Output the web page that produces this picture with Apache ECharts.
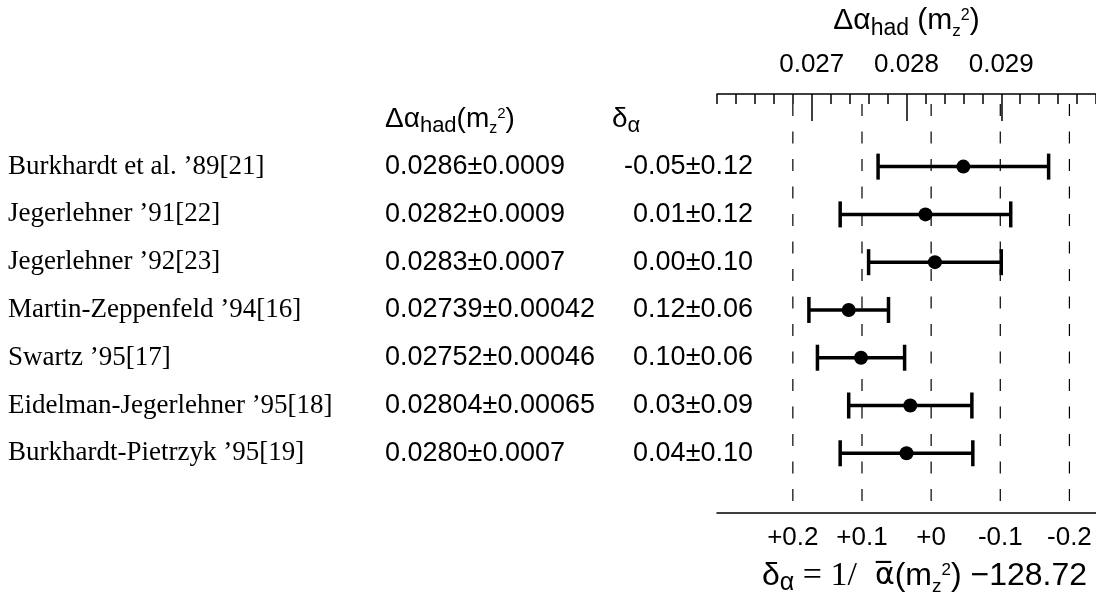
<!DOCTYPE html>
<html>
<head>
<meta charset="utf-8">
<script src="https://cdn.jsdelivr.net/npm/echarts@6/dist/echarts.min.js"></script>
<style>html,body{margin:0;padding:0;background:#fff}#c{width:1096px;height:594px}</style>
</head>
<body>
<div id="c"></div>
<script>
// ---- data ----
const names = ["Burkhardt et al. \u201989[21]", "Jegerlehner \u201991[22]", "Jegerlehner \u201992[23]",
  "Martin-Zeppenfeld \u201994[16]", "Swartz \u201995[17]", "Eidelman-Jegerlehner \u201995[18]", "Burkhardt-Pietrzyk \u201995[19]"];
const daText = ["0.0286\u00B10.0009", "0.0282\u00B10.0009", "0.0283\u00B10.0007", "0.02739\u00B10.00042",
  "0.02752\u00B10.00046", "0.02804\u00B10.00065", "0.0280\u00B10.0007"];
const deltaText = ["-0.05\u00B10.12", "0.01\u00B10.12", "0.00\u00B10.10", "0.12\u00B10.06", "0.10\u00B10.06", "0.03\u00B10.09", "0.04\u00B10.10"];
const daVal = [0.0286, 0.0282, 0.0283, 0.02739, 0.02752, 0.02804, 0.0280];
const daErr = [0.0009, 0.0009, 0.0007, 0.00042, 0.00046, 0.00065, 0.0007];
const topTicks = [0.027, 0.028, 0.029];
const bottomTicks = [0.2, 0.1, 0, -0.1, -0.2];
const rowIdx = [0, 1, 2, 3, 4, 5, 6];

// axis ranges / conversion  delta = K*(DA0 - dAlpha)
const DA_MIN = 0.026, DA_MAX = 0.030;
const K = 137.036, DA0 = 0.02826;
const D_MIN = K * (DA0 - DA_MAX), D_MAX = K * (DA0 - DA_MIN);
const Y_MIN = -1.52, Y_MAX = 7.25;

const SANS = "'Liberation Sans', Arial, sans-serif";
const SERIF = "'Liberation Serif', 'Times New Roman', serif";

function makeRich(fs, lh) {
  const supFs = Math.round(fs * 0.52);
  return {
    m: { fontFamily: SANS, fontSize: fs, lineHeight: lh, color: '#000' },
    ab: { fontFamily: "'DejaVu Sans', sans-serif", fontSize: fs - 2, lineHeight: lh, color: '#000' },
    sub: { fontFamily: SANS, fontSize: Math.round(fs * 0.78), lineHeight: Math.round(fs * 0.78), verticalAlign: 'bottom', color: '#000' },
    zs: { fontFamily: SANS, fontSize: Math.round(fs * 0.58), lineHeight: Math.round(fs * 0.58), verticalAlign: 'bottom', color: '#000' },
    sup: { fontFamily: SANS, fontSize: supFs, lineHeight: supFs, verticalAlign: 'top', padding: [Math.round(fs * 0.2), 0, 0, 0], color: '#000' },
    t: { fontFamily: SERIF, fontSize: fs + 2, lineHeight: lh, color: '#000' }
  };
}
const richHead = makeRich(28, 36);
const richTop = makeRich(30, 38);
const richBottom = makeRich(32, 40);

const errData = rowIdx.map(i => [daVal[i], i, daErr[i]]);
const ptData = rowIdx.map(i => [daVal[i], i]);

const hiddenY = { axisLine: { show: false }, axisTick: { show: false }, splitLine: { show: false } };

const chart = echarts.init(document.getElementById('c'), null, { renderer: 'canvas' });
chart.setOption({
  animation: false,
  backgroundColor: '#fff',
  grid: { left: 717, right: 0, top: 94, bottom: 81, containLabel: false, outerBoundsMode: 'none' },
  xAxis: [
    {
      type: 'value', position: 'top', min: DA_MIN, max: DA_MAX, interval: 0.001,
      axisLine: { show: true, onZero: false, lineStyle: { color: '#000', width: 1.5 } },
      axisTick: { show: true, inside: true, length: 27, customValues: topTicks, lineStyle: { color: '#000', width: 1.5 } },
      axisLabel: { customValues: topTicks, fontFamily: SANS, fontSize: 26, color: '#000', margin: 16,
        formatter: v => v.toFixed(3) },
      splitLine: { show: false },
      name: '{m|\u0394\u03B1}{sub|had}{m| (m}{zs|z}{sup|2}{m|)}',
      nameLocation: 'middle', nameGap: 54,
      nameTextStyle: { rich: richTop }
    },
    {
      type: 'value', position: 'bottom', inverse: true, min: D_MIN, max: D_MAX,
      axisLine: { show: true, onZero: false, lineStyle: { color: '#000', width: 1.5 } },
      axisTick: { show: false },
      axisLabel: { customValues: bottomTicks, fontFamily: SANS, fontSize: 26, color: '#000', margin: 12,
        formatter: v => (v >= 0 ? '+' : '') + (Math.abs(v) < 1e-9 ? '0' : v.toFixed(1)) },
      splitLine: { show: false },
      name: '{m|\u03B4}{sub|\u03B1}{t| = 1/ }{ab| \u03B1\u0305}{m|(m}{zs|z}{sup|2}{m|) \u2212128.72}',
      nameLocation: 'middle', nameGap: 40,
      nameTextStyle: { rich: richBottom, padding: [0, 0, 0, 36] }
    },
    {
      type: 'value', position: 'top', min: DA_MIN, max: DA_MAX, interval: 0.0002,
      axisLine: { show: false, onZero: false },
      axisTick: { show: true, inside: true, length: 10, lineStyle: { color: '#000', width: 1.5 } },
      axisLabel: { show: false }, splitLine: { show: false }
    }
  ],
  yAxis: [
    Object.assign({
      type: 'value', position: 'left', offset: 0, inverse: true, min: Y_MIN, max: Y_MAX,
      axisLabel: { customValues: rowIdx, align: 'left', margin: 709, fontFamily: SERIF, fontSize: 27, color: '#000',
        formatter: v => names[Math.round(v)] }
    }, hiddenY),
    Object.assign({
      type: 'value', position: 'left', offset: 0, inverse: true, min: Y_MIN, max: Y_MAX,
      axisLabel: { customValues: [-1].concat(rowIdx), align: 'left', margin: 332, fontFamily: SANS, fontSize: 27, color: '#000',
        formatter: v => {
          const i = Math.round(v);
          if (i < 0) return '{m|\u0394\u03B1}{sub|had}{m|(m}{zs|z}{sup|2}{m|)}';
          return '{v|' + daText[i] + '}';
        },
        rich: Object.assign({ v: { fontFamily: SANS, fontSize: 27, color: '#000' } }, richHead) }
    }, hiddenY),
    Object.assign({
      type: 'value', position: 'left', offset: 0, inverse: true, min: Y_MIN, max: Y_MAX,
      axisLabel: { customValues: [-1].concat(rowIdx), align: 'left', margin: 105, fontFamily: SANS, fontSize: 27, color: '#000',
        formatter: v => {
          const i = Math.round(v);
          if (i < 0) return '{m|\u03B4}{sub|\u03B1}';
          return '{d|' + deltaText[i] + '}';
        },
        rich: Object.assign({ d: { fontFamily: SANS, fontSize: 27, color: '#000', width: 141, align: 'right' } }, richHead) }
    }, hiddenY)
  ],
  series: [
    {
      type: 'custom', xAxisIndex: 1, yAxisIndex: 0, silent: true, z: 1,
      data: bottomTicks.map(v => [v]),
      renderItem: (params, api) => {
        const v = api.value(0);
        const p1 = api.coord([v, Y_MIN]);
        const p2 = api.coord([v, Y_MAX]);
        return { type: 'line', shape: { x1: p1[0], y1: p1[1], x2: p2[0], y2: p2[1] },
          style: { stroke: '#000', lineWidth: 1.2, lineDash: [12, 15.5], lineDashOffset: 17.5 } };
      }
    },
    {
      type: 'custom', xAxisIndex: 0, yAxisIndex: 0, silent: true, z: 3,
      data: errData,
      renderItem: (params, api) => {
        const x = api.value(0), y = api.value(1), e = api.value(2);
        const a = api.coord([x - e, y]);
        const b = api.coord([x + e, y]);
        const st = { stroke: '#000', lineWidth: 3.5 };
        return { type: 'group', children: [
          { type: 'line', shape: { x1: a[0], y1: a[1], x2: b[0], y2: b[1] }, style: st },
          { type: 'line', shape: { x1: a[0], y1: a[1] - 13, x2: a[0], y2: a[1] + 13 }, style: st },
          { type: 'line', shape: { x1: b[0], y1: b[1] - 13, x2: b[0], y2: b[1] + 13 }, style: st }
        ] };
      }
    },
    {
      type: 'scatter', xAxisIndex: 0, yAxisIndex: 0, z: 4,
      symbol: 'circle', symbolSize: 14,
      itemStyle: { color: '#000', opacity: 1 },
      data: ptData
    }
  ]
});
</script>
</body>
</html>
